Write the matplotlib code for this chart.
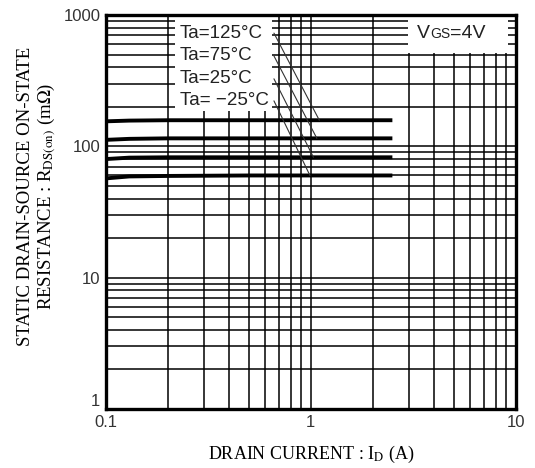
import matplotlib
matplotlib.use('Agg')
import matplotlib.pyplot as plt
from matplotlib.patches import Rectangle

plt.rcParams['mathtext.fontset'] = 'stix'

# drain current (A) and on-resistance (mOhm) per ambient temperature
drain_current = [0.1, 0.13, 0.2, 0.5, 1.0, 2.5]
r_125 = [155, 157, 158, 158, 158, 158]
r_75 = [112, 114, 115, 115, 115, 115]
r_25 = [80, 82, 82.5, 82.5, 82.5, 82.5]
r_m25 = [57, 59, 59.5, 60, 60, 60]
curve_labels = ['Ta=125°C', 'Ta=75°C', 'Ta=25°C', 'Ta= \u221225°C']
leader_end_x = [1.10, 1.07, 1.03, 0.99]

x_ticks = [0.1, 1, 10]
x_ticklabels = ['0.1', '1', '10']
y_ticks = [1, 10, 100, 1000]
y_ticklabels = ['1', '10', '100', '1000']

fig = plt.figure(figsize=(5.35, 4.68), dpi=100)
ax = fig.add_axes([0.198, 0.126, 0.766, 0.842])
ax.set_xscale('log')
ax.set_yscale('log')
ax.set_xlim(0.1, 10)
ax.set_ylim(1, 1000)

ax.grid(True, which='both', color='black', linewidth=1.1, zorder=1)
ax.set_axisbelow(True)

curves = [r_125, r_75, r_25, r_m25]
for r in curves:
    ax.plot(drain_current, r, color='black', linewidth=2.8, solid_capstyle='butt', zorder=3)

# white label boxes over the grid
ax.add_patch(Rectangle((0.168, 0.757), 0.237, 0.26, transform=ax.transAxes,
                       facecolor='white', edgecolor='none', zorder=2))
ax.add_patch(Rectangle((0.737, 0.904), 0.243, 0.1, transform=ax.transAxes,
                       facecolor='white', edgecolor='none', zorder=2))

txt = dict(transform=ax.transAxes, family='Liberation Sans', color='#222222',
           va='center', ha='left', zorder=4)

label_y = [0.954, 0.896, 0.838, 0.782]
for lab, ly, xe, r in zip(curve_labels, label_y, leader_end_x, curves):
    ax.text(0.18, ly, lab, fontsize=13.5, **txt)
    ax.annotate('', xy=(xe, r[-1]), xycoords='data',
                xytext=(0.41, ly), textcoords='axes fraction',
                arrowprops=dict(arrowstyle='-', color='#333333', lw=0.8,
                                shrinkA=0, shrinkB=0), zorder=4)

ax.text(0.759, 0.954, 'V', fontsize=14, **txt)
ax.text(0.791, 0.951, 'GS', fontsize=10, **txt)
ax.text(0.839, 0.954, '=4V', fontsize=14, **txt)

ax.set_xticks(x_ticks)
ax.set_xticklabels(x_ticklabels)
ax.set_yticks(y_ticks)
ax.set_yticklabels(y_ticklabels)
ax.tick_params(which='both', length=0, labelsize=12, labelcolor='#333333', pad=4)
for lab in ax.get_xticklabels() + ax.get_yticklabels():
    lab.set_family('Liberation Sans')
ax.get_yticklabels()[0].set_va('bottom')

for sp in ax.spines.values():
    sp.set_linewidth(2.4)
    sp.set_zorder(5)

ax.set_xlabel('DRAIN CURRENT : I$_{\\mathrm{D}}$ (A)', family='Liberation Serif',
              fontsize=13, labelpad=10)
ax.set_ylabel('STATIC DRAIN-SOURCE ON-STATE\nRESISTANCE : R$_{\\mathrm{DS(on)}}$ (m$\\Omega$)',
              family='Liberation Serif', fontsize=13.5, linespacing=1.05)
ax.yaxis.set_label_coords(-0.118, 0.54)

plt.savefig('out.png', dpi=100)
plt.close()
